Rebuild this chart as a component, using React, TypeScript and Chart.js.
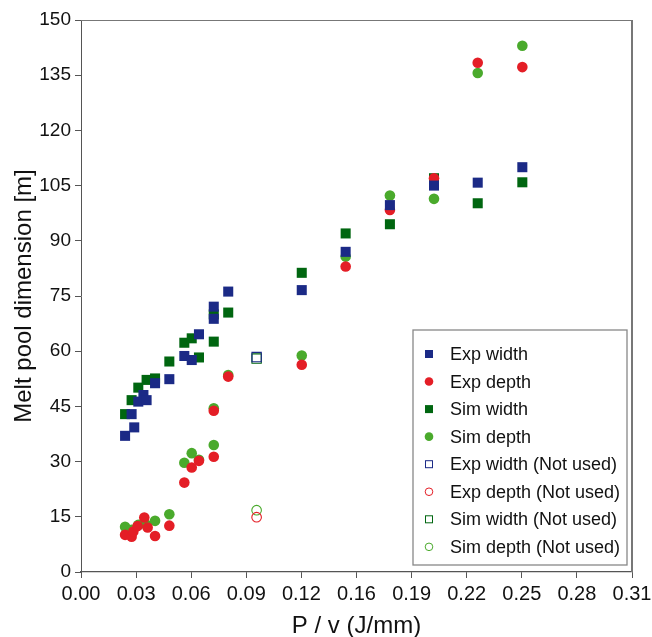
import React, { useEffect, useRef } from "react";
import { Chart, registerables } from "chart.js";

Chart.register(...registerables);

const FONT = "'Liberation Sans', Arial, Helvetica, sans-serif";

// Axis ticks
const xTickLabels = ["0.00", "0.03", "0.06", "0.09", "0.12", "0.16", "0.19", "0.22", "0.25", "0.28", "0.31"];
const xMin = 0;
const xMax = 0.3125;
const xStep = 0.03125;
const yMin = 0;
const yMax = 150;
const yStep = 15;

// Series: Exp width
const expWidthX = [0.025, 0.0287, 0.0302, 0.0325, 0.0354, 0.0372, 0.042, 0.0501, 0.0586, 0.0628, 0.0669, 0.0753, 0.0753, 0.0835, 0.1252, 0.1501, 0.1752, 0.2002, 0.225, 0.2503];
const expWidthY = [37.0, 42.9, 39.3, 46.3, 48.1, 46.7, 51.3, 52.4, 58.7, 57.6, 64.6, 72.1, 68.8, 76.2, 76.6, 87.0, 99.7, 105.0, 105.8, 110.0];

// Series: Exp depth
const expDepthX = [0.025, 0.0287, 0.0297, 0.0321, 0.0359, 0.0378, 0.042, 0.0501, 0.0586, 0.0628, 0.0669, 0.0753, 0.0753, 0.0835, 0.1252, 0.1501, 0.1752, 0.2002, 0.225, 0.2503];
const expDepthY = [10.1, 9.6, 11.0, 12.5, 14.8, 12.1, 9.8, 12.6, 24.3, 28.4, 30.2, 31.3, 43.8, 53.1, 56.3, 83.0, 98.4, 107.0, 138.4, 137.2];

// Series: Sim width
const simWidthX = [0.025, 0.0287, 0.0325, 0.0372, 0.042, 0.0501, 0.0586, 0.0628, 0.0669, 0.0753, 0.0753, 0.0835, 0.1252, 0.1501, 0.1752, 0.2002, 0.225, 0.2503];
const simWidthY = [42.9, 46.7, 50.1, 52.2, 52.6, 57.2, 62.3, 63.5, 58.3, 70.0, 62.6, 70.5, 81.3, 92.0, 94.5, 107.0, 100.2, 105.9];

// Series: Sim depth
const simDepthX = [0.025, 0.0287, 0.0325, 0.0372, 0.042, 0.0501, 0.0586, 0.0628, 0.0669, 0.0753, 0.0753, 0.0835, 0.1252, 0.1501, 0.1752, 0.2002, 0.225, 0.2503];
const simDepthY = [12.3, 11.5, 12.8, 12.8, 13.9, 15.7, 29.7, 32.3, 30.5, 34.5, 44.5, 53.5, 58.8, 85.7, 102.3, 101.4, 135.6, 143.0];

// Not used points
const expWidthNUX = [0.0996];
const expWidthNUY = [58.4];
const expDepthNUX = [0.0996];
const expDepthNUY = [14.9];
const simWidthNUX = [0.0996];
const simWidthNUY = [58.0];
const simDepthNUX = [0.0996];
const simDepthNUY = [16.8];

const BLUE = "#1b2a86";
const RED = "#e41e26";
const DGREEN = "#006610";
const LGREEN = "#4aaa2c";

const pts = (xs: number[], ys: number[]) => xs.map((x, i) => ({ x, y: ys[i] }));

const framePlugin = {
  id: "frame",
  afterDatasetsDraw(chart: any) {
    const { ctx, chartArea } = chart;
    const { left, right, top, bottom } = chartArea;
    ctx.save();
    ctx.strokeStyle = "#777";
    ctx.lineWidth = 1.2;
    ctx.beginPath();
    ctx.moveTo(left, top + 0.5);
    ctx.lineTo(right, top + 0.5);
    ctx.stroke();
    ctx.lineWidth = 2;
    ctx.beginPath();
    ctx.moveTo(right, top);
    ctx.lineTo(right, bottom);
    ctx.stroke();
    ctx.restore();
  },
};

const legendPlugin = {
  id: "boxLegend",
  afterDraw(chart: any) {
    const { ctx, chartArea } = chart;
    const bx = chartArea.right - 219;
    const by = 330;
    const bw = 214;
    const bh = 235;
    ctx.save();
    ctx.fillStyle = "#fff";
    ctx.fillRect(bx, by, bw, bh);
    ctx.strokeStyle = "#888";
    ctx.lineWidth = 1.3;
    ctx.strokeRect(bx, by, bw, bh);
    ctx.font = `18px ${FONT}`;
    ctx.textBaseline = "middle";
    ctx.textAlign = "left";
    chart.data.datasets.forEach((ds: any, i: number) => {
      const cy = by + 24 + i * 27.55;
      const cx = bx + 16;
      const hollow = ds.backgroundColor === "rgba(0,0,0,0)";
      const color = ds.borderColor;
      ctx.fillStyle = color;
      ctx.strokeStyle = color;
      ctx.lineWidth = 1;
      if (ds.pointStyle === "rect") {
        if (hollow) ctx.strokeRect(cx - 3.5, cy - 3.5, 7, 7);
        else ctx.fillRect(cx - 4, cy - 4, 8, 8);
      } else {
        ctx.beginPath();
        ctx.arc(cx, cy, hollow ? 3.8 : 4.3, 0, Math.PI * 2);
        if (hollow) ctx.stroke();
        else ctx.fill();
      }
      ctx.fillStyle = "#111";
      ctx.fillText(ds.label, bx + 37, cy + 1);
    });
    ctx.restore();
  },
};

export default function App() {
  const ref = useRef<HTMLCanvasElement>(null);

  useEffect(() => {
    if (!ref.current) return;
    const mk = (label: string, xs: number[], ys: number[], color: string, style: string, hollow: boolean) => ({
      label,
      data: pts(xs, ys),
      pointStyle: style,
      pointRadius: style === "rect" ? (hollow ? 6.6 : 7.1) : hollow ? 4.8 : 5.3,
      backgroundColor: hollow ? "rgba(0,0,0,0)" : color,
      borderColor: color,
      borderWidth: hollow ? 1.1 : 0,
      showLine: false,
    });
    const chart = new Chart(ref.current, {
      type: "scatter",
      data: {
        datasets: [
          mk("Exp width", expWidthX, expWidthY, BLUE, "rect", false),
          mk("Exp depth", expDepthX, expDepthY, RED, "circle", false),
          mk("Sim width", simWidthX, simWidthY, DGREEN, "rect", false),
          mk("Sim depth", simDepthX, simDepthY, LGREEN, "circle", false),
          mk("Exp width (Not used)", expWidthNUX, expWidthNUY, BLUE, "rect", true),
          mk("Exp depth (Not used)", expDepthNUX, expDepthNUY, RED, "circle", true),
          mk("Sim width (Not used)", simWidthNUX, simWidthNUY, DGREEN, "rect", true),
          mk("Sim depth (Not used)", simDepthNUX, simDepthNUY, LGREEN, "circle", true),
        ] as any,
      },
      options: {
        responsive: false,
        animation: false,
        devicePixelRatio: 1,
        layout: { padding: { left: 0, top: 20, right: 20, bottom: 0 } },
        plugins: {
          legend: { display: false },
          tooltip: { enabled: false },
        },
        scales: {
          x: {
            type: "linear",
            min: xMin,
            max: xMax,
            afterFit: (s: any) => {
              s.height = 65;
              s.paddingLeft = 0;
              s.paddingRight = 0;
            },
            ticks: {
              stepSize: xStep,
              autoSkip: false,
              maxRotation: 0,
              padding: 4,
              color: "#111",
              font: { family: FONT, size: 20 },
              callback: (_v: any, i: number) => xTickLabels[i],
            },
            grid: { display: true, drawOnChartArea: false, drawTicks: true, tickLength: 6, tickColor: "#555" },
            border: { display: true, color: "#555", width: 1.2 },
            title: {
              display: true,
              text: "P / v (J/mm)",
              color: "#111",
              font: { family: FONT, size: 24, lineHeight: 0.8 },
              padding: { top: 0, bottom: 1 },
            },
          },
          y: {
            type: "linear",
            min: yMin,
            max: yMax,
            afterFit: (s: any) => {
              s.width = 81;
            },
            ticks: {
              stepSize: yStep,
              padding: 4,
              color: "#111",
              font: { family: FONT, size: 19 },
            },
            grid: { display: true, drawOnChartArea: false, drawTicks: true, tickLength: 6, tickColor: "#555" },
            border: { display: true, color: "#555", width: 1 },
            title: {
              display: true,
              text: "Melt pool dimension [m]",
              color: "#111",
              font: { family: FONT, size: 24 },
              padding: { top: 10, bottom: 0 },
            },
          },
        },
      } as any,
      plugins: [framePlugin, legendPlugin],
    });
    return () => chart.destroy();
  }, []);

  return (
    <div style={{ position: "fixed", left: 0, top: 0, width: 652, height: 637, background: "#fff" }}>
      <canvas ref={ref} width={652} height={637} style={{ width: 652, height: 637, display: "block" }} />
    </div>
  );
}
